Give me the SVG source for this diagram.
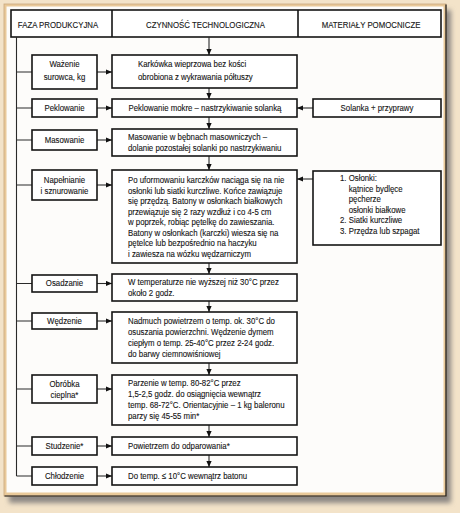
<svg xmlns="http://www.w3.org/2000/svg" width="460" height="513" viewBox="0 0 460 513">
<style>
.t{font-family:"Liberation Sans",Arial,sans-serif;font-size:9px;fill:#151515;stroke:#151515;stroke-width:0.12}
.c{text-anchor:middle}
.box{fill:#fff;stroke:#141414;stroke-width:1.6}
.ln{stroke:#2a2a2a;stroke-width:1.1;fill:none}
.ar{stroke:#2a2a2a;stroke-width:1.1;fill:none;marker-end:url(#ah)}
</style>
<defs>
<marker id="ah" viewBox="0 0 6 6" refX="6" refY="3" markerWidth="6" markerHeight="6" orient="auto" markerUnits="userSpaceOnUse"><path d="M0,0.4 L6,3 L0,5.6 z" fill="#111"/></marker>
<filter id="sh" x="-5%" y="-5%" width="110%" height="110%"><feGaussianBlur stdDeviation="2.5"/></filter>
</defs>
<rect width="460" height="513" fill="#f3e3c9"/>
<g id="frame">
<rect x="9" y="10" width="442" height="493" fill="#8d8884" filter="url(#sh)"/>
<rect x="4" y="4" width="442" height="492" fill="#e9c999" stroke="#c9a97e" stroke-width="0.8"/>
<path d="M446,4.5 V496 H4.5" fill="none" stroke="#1a1a1a" stroke-width="1.2"/>
<rect x="6.5" y="6.5" width="437" height="486" fill="#fdfcfa"/>
</g>
<g id="header">
<rect class="box" x="11" y="10" width="430" height="27"/>
<line x1="112" y1="10" x2="112" y2="37" stroke="#141414" stroke-width="1.6"/>
<line x1="298" y1="10" x2="298" y2="37" stroke="#141414" stroke-width="1.6"/>
<g transform="translate(58,0) scale(0.87,1)"><text class="t c" x="0" y="28">FAZA PRODUKCYJNA</text></g>
<g transform="translate(205.5,0) scale(0.87,1)"><text class="t c" x="0" y="28">CZYNNOŚĆ TECHNOLOGICZNA</text></g>
<g transform="translate(371,0) scale(0.87,1)"><text class="t c" x="0" y="28">MATERIAŁY POMOCNICZE</text></g>
</g>
<g id="connectors">
<path class="ln" d="M16.5,37 V476 M16.5,72 H32 M16.5,108 H32 M16.5,140 H32 M16.5,185 H32 M16.5,283.5 H32 M16.5,321 H32 M16.5,389 H32 M16.5,446 H32 M16.5,476 H32"/>
<line class="ar" x1="97" y1="72" x2="112" y2="72"/>
<line class="ar" x1="97" y1="108" x2="112" y2="108"/>
<line class="ar" x1="97" y1="140" x2="112" y2="140"/>
<line class="ar" x1="97" y1="185" x2="112" y2="185"/>
<line class="ar" x1="97" y1="283.5" x2="112" y2="283.5"/>
<line class="ar" x1="97" y1="321" x2="112" y2="321"/>
<line class="ar" x1="97" y1="389" x2="112" y2="389"/>
<line class="ar" x1="97" y1="446" x2="112" y2="446"/>
<line class="ar" x1="97" y1="476" x2="112" y2="476"/>
<line class="ar" x1="209" y1="37" x2="209" y2="55"/>
<line class="ar" x1="209" y1="88" x2="209" y2="99"/>
<line class="ar" x1="209" y1="117" x2="209" y2="129"/>
<line class="ar" x1="209" y1="156" x2="209" y2="170"/>
<line class="ar" x1="209" y1="263" x2="209" y2="274"/>
<line class="ar" x1="209" y1="301" x2="209" y2="312"/>
<line class="ar" x1="209" y1="363" x2="209" y2="375"/>
<line class="ar" x1="209" y1="425" x2="209" y2="437"/>
<line class="ar" x1="209" y1="455" x2="209" y2="467"/>
<line class="ar" x1="313" y1="108" x2="297" y2="108"/>
<line class="ar" x1="313" y1="179" x2="297" y2="179"/>
</g>
<g id="n-wazenie"><rect class="box" x="32" y="55" width="65" height="34"/>
<g transform="translate(64.5,0) scale(0.87,1)"><text class="t c" x="0" y="67.5">Ważenie</text><text class="t c" x="0" y="80">surowca, kg</text></g></g>
<g id="n-karkowka"><rect class="box" x="112" y="55" width="185" height="33"/>
<g transform="translate(138,0) scale(0.87,1)"><text class="t" x="0" y="67.5">Karkówka wieprzowa bez kości</text><text class="t" x="0" y="80">obrobiona z wykrawania półtuszy</text></g></g>
<g id="n-peklowanie"><rect class="box" x="32" y="99" width="65" height="18"/>
<g transform="translate(64.5,0) scale(0.87,1)"><text class="t c" x="0" y="111">Peklowanie</text></g></g>
<g id="n-peklowanie-mokre"><rect class="box" x="112" y="99" width="185" height="18"/>
<g transform="translate(205,0) scale(0.87,1)"><text class="t c" x="0" y="111">Peklowanie mokre – nastrzykiwanie solanką</text></g></g>
<g id="n-solanka"><rect class="box" x="313" y="99" width="128" height="18"/>
<g transform="translate(377,0) scale(0.87,1)"><text class="t c" x="0" y="111">Solanka + przyprawy</text></g></g>
<g id="n-masowanie"><rect class="box" x="32" y="130" width="65" height="20"/>
<g transform="translate(64.5,0) scale(0.87,1)"><text class="t c" x="0" y="143">Masowanie</text></g></g>
<g id="n-masowanie-opis"><rect class="box" x="112" y="129" width="185" height="27"/>
<g transform="translate(128,0) scale(0.87,1)"><text class="t" x="0" y="140.5">Masowanie w bębnach masowniczych –</text><text class="t" x="0" y="151.5">dolanie pozostałej solanki po nastrzykiwaniu</text></g></g>
<g id="n-napelnianie"><rect class="box" x="32" y="170" width="65" height="30"/>
<g transform="translate(64.5,0) scale(0.87,1)"><text class="t c" x="0" y="183">Napełnianie</text><text class="t c" x="0" y="194">i sznurowanie</text></g></g>
<g id="n-napelnianie-opis"><rect class="box" x="112" y="170" width="185" height="93"/>
<g transform="translate(128,0) scale(0.87,1)">
<text class="t" x="0" y="183.5">Po uformowaniu karczków naciąga się na nie</text>
<text class="t" x="0" y="194">osłonki lub siatki kurczliwe. Końce zawiązuje</text>
<text class="t" x="0" y="204.5">się przędzą. Batony w osłonkach białkowych</text>
<text class="t" x="0" y="215">przewiązuje się 2 razy wzdłuż i co 4-5 cm</text>
<text class="t" x="0" y="225.5">w poprzek, robiąc pętelkę do zawieszania.</text>
<text class="t" x="0" y="236">Batony w osłonkach (karczki) wiesza się na</text>
<text class="t" x="0" y="246.5">pętelce lub bezpośrednio na haczyku</text>
<text class="t" x="0" y="257">i zawiesza na wózku wędzarniczym</text>
</g></g>
<g id="n-oslonki"><rect class="box" x="313" y="171" width="128" height="74"/>
<g transform="translate(340,0) scale(0.87,1)">
<text class="t" x="0" y="181.5">1. Osłonki:</text>
<text class="t" x="10" y="192">kątnice bydlęce</text>
<text class="t" x="10" y="202.5">pęcherze</text>
<text class="t" x="10" y="213">osłonki białkowe</text>
<text class="t" x="0" y="223.5">2. Siatki kurczliwe</text>
<text class="t" x="0" y="234">3. Przędza lub szpagat</text>
</g></g>
<g id="n-osadzanie"><rect class="box" x="32" y="275" width="65" height="17"/>
<g transform="translate(64.5,0) scale(0.87,1)"><text class="t c" x="0" y="286.5">Osadzanie</text></g></g>
<g id="n-osadzanie-opis"><rect class="box" x="112" y="274" width="185" height="27"/>
<g transform="translate(128,0) scale(0.87,1)"><text class="t" x="0" y="285.5">W temperaturze nie wyższej niż 30°C przez</text><text class="t" x="0" y="296">około 2 godz.</text></g></g>
<g id="n-wedzenie"><rect class="box" x="32" y="313" width="65" height="16"/>
<g transform="translate(64.5,0) scale(0.87,1)"><text class="t c" x="0" y="324">Wędzenie</text></g></g>
<g id="n-wedzenie-opis"><rect class="box" x="112" y="312" width="185" height="51"/>
<g transform="translate(128,0) scale(0.87,1)">
<text class="t" x="0" y="324">Nadmuch powietrzem o temp. ok. 30°C do</text>
<text class="t" x="0" y="335">osuszania powierzchni. Wędzenie dymem</text>
<text class="t" x="0" y="346">ciepłym o temp. 25-40°C przez 2-24 godz.</text>
<text class="t" x="0" y="357">do barwy ciemnowiśniowej</text>
</g></g>
<g id="n-obrobka"><rect class="box" x="32" y="375" width="65" height="28"/>
<g transform="translate(64.5,0) scale(0.87,1)"><text class="t c" x="0" y="387">Obróbka</text><text class="t c" x="0" y="398">cieplna*</text></g></g>
<g id="n-obrobka-opis"><rect class="box" x="112" y="375" width="185" height="50"/>
<g transform="translate(128,0) scale(0.87,1)">
<text class="t" x="0" y="386">Parzenie w temp. 80-82°C przez</text>
<text class="t" x="0" y="397">1,5-2,5 godz. do osiągnięcia wewnątrz</text>
<text class="t" x="0" y="408">temp. 68-72°C. Orientacyjnie – 1 kg baleronu</text>
<text class="t" x="0" y="419">parzy się 45-55 min*</text>
</g></g>
<g id="n-studzenie"><rect class="box" x="32" y="437" width="65" height="18"/>
<g transform="translate(64.5,0) scale(0.87,1)"><text class="t c" x="0" y="449">Studzenie*</text></g></g>
<g id="n-studzenie-opis"><rect class="box" x="112" y="437" width="185" height="18"/>
<g transform="translate(128,0) scale(0.87,1)"><text class="t" x="0" y="449">Powietrzem do odparowania*</text></g></g>
<g id="n-chlodzenie"><rect class="box" x="32" y="467" width="65" height="18"/>
<g transform="translate(64.5,0) scale(0.87,1)"><text class="t c" x="0" y="479">Chłodzenie</text></g></g>
<g id="n-chlodzenie-opis"><rect class="box" x="112" y="467" width="185" height="18"/>
<g transform="translate(128,0) scale(0.87,1)"><text class="t" x="0" y="479">Do temp. ≤ 10°C wewnątrz batonu</text></g></g>
</svg>
